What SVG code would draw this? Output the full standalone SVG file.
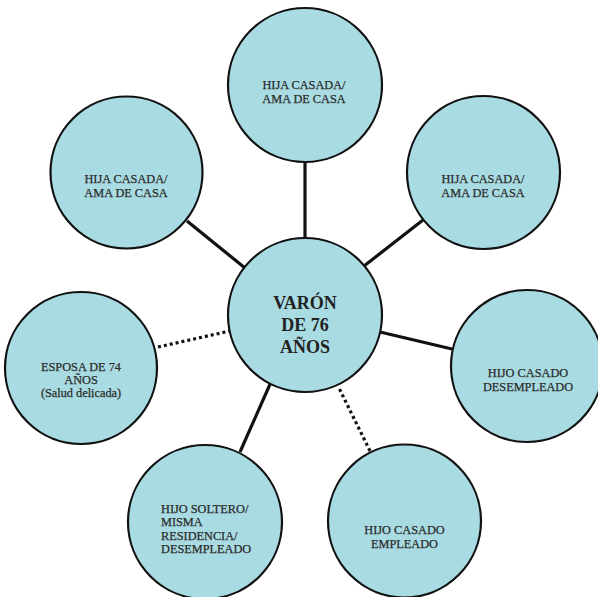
<svg xmlns="http://www.w3.org/2000/svg" width="598" height="597" viewBox="0 0 598 597">
<style>
.node circle{fill:#a9dbe2;stroke:#111;stroke-width:2.2}
.lbl{font-family:"Liberation Serif","Times New Roman",serif;font-size:12.3px;fill:#2b2b2b;stroke:#2b2b2b;stroke-width:0.25;text-anchor:middle}
.lbl.left{text-anchor:start}
.main{font-family:"Liberation Serif","Times New Roman",serif;font-size:18px;font-weight:bold;fill:#222;text-anchor:middle}
.solid{stroke:#111;stroke-width:3.2;fill:none}
.dotted{stroke:#111;stroke-width:3.2;fill:none;stroke-dasharray:3 3}
</style>
<rect width="598" height="597" fill="#fff"/>
<g id="connectors">
<line class="solid" x1="187" y1="221" x2="245" y2="268"/>
<line class="solid" x1="305" y1="162" x2="305" y2="238"/>
<line class="solid" x1="423" y1="220" x2="364" y2="266"/>
<line class="solid" x1="452" y1="349" x2="380" y2="332"/>
<line class="dotted" x1="370" y1="451" x2="339" y2="388"/>
<line class="solid" x1="240" y1="452" x2="271" y2="382"/>
<line class="dotted" x1="158" y1="347" x2="230" y2="331"/>
</g>
<g id="node-top" class="node">
<circle cx="305" cy="85" r="77"/>
<text class="lbl" x="304" y="89">HIJA CASADA/</text>
<text class="lbl" x="304" y="103">AMA DE CASA</text>
</g>
<g id="node-upper-left" class="node">
<circle cx="126.5" cy="172.5" r="76"/>
<text class="lbl" x="126" y="183">HIJA CASADA/</text>
<text class="lbl" x="126" y="197">AMA DE CASA</text>
</g>
<g id="node-upper-right" class="node">
<circle cx="483.5" cy="172.5" r="76.5"/>
<text class="lbl" x="483" y="183">HIJA CASADA/</text>
<text class="lbl" x="483" y="197">AMA DE CASA</text>
</g>
<g id="node-left" class="node">
<circle cx="81" cy="368" r="76"/>
<text class="lbl" x="81" y="371">ESPOSA DE 74</text>
<text class="lbl" x="81" y="384">AÑOS</text>
<text class="lbl" x="81" y="397">(Salud delicada)</text>
</g>
<g id="node-right" class="node">
<circle cx="527" cy="366" r="76"/>
<text class="lbl" x="528" y="377">HIJO CASADO</text>
<text class="lbl" x="528" y="391">DESEMPLEADO</text>
</g>
<g id="node-bottom-right" class="node">
<circle cx="404.5" cy="521" r="76.5"/>
<text class="lbl" x="404.5" y="534">HIJO CASADO</text>
<text class="lbl" x="404.5" y="548">EMPLEADO</text>
</g>
<g id="node-bottom-left" class="node">
<circle cx="205" cy="522" r="77"/>
<text class="lbl left" x="161" y="512.5">HIJO SOLTERO/</text>
<text class="lbl left" x="161" y="526">MISMA</text>
<text class="lbl left" x="161" y="539.5">RESIDENCIA/</text>
<text class="lbl left" x="161" y="553">DESEMPLEADO</text>
</g>
<g id="node-center" class="node">
<circle cx="305" cy="315" r="77"/>
<text class="main" x="305" y="309">VARÓN</text>
<text class="main" x="305" y="331">DE 76</text>
<text class="main" x="305" y="353">AÑOS</text>
</g>
</svg>
